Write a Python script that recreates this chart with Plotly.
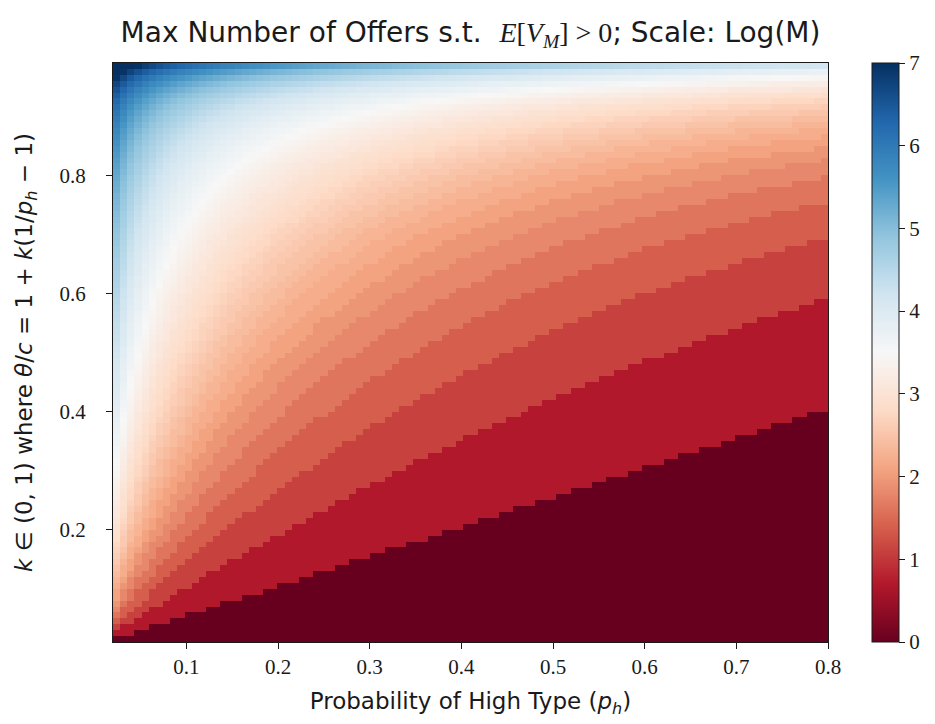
import numpy as np
import plotly.graph_objects as go

# ---- data (grid: p_h spans 0.02..0.8, k spans 0.01..0.99) ----
P_H_EDGES = np.linspace(0.02, 0.80, 101)      # column edges (100 columns)
K_EDGES = np.linspace(0.01, 0.99, 99)         # row edges (98 rows)
P_H = 0.5 * (P_H_EDGES[:-1] + P_H_EDGES[1:])  # p_h value in each column
K = np.arange(1, 99) / 100.0                  # k = 0.01 ... 0.98 in each row
M_CANDIDATES = np.arange(1, 1098)             # offers searched (log cap = 7)
X_TICKS = [0.1, 0.2, 0.3, 0.4, 0.5, 0.6, 0.7, 0.8]
Y_TICKS = [0.2, 0.4, 0.6, 0.8]
CBAR_TICKS = [0, 1, 2, 3, 4, 5, 6, 7]

# theta/c = 1 + k(1/p_h - 1); E[V_M] > 0  <=>  theta/c > mean_{m<=M} E[min(T, m)]
q = 1.0 - P_H[:, None]
m = M_CANDIDATES[None, :]
trunc_mean = (1.0 - q ** m) / P_H[:, None]            # E[min(T,m)]
threshold = np.cumsum(trunc_mean, axis=1) / m          # shape (P, M)
ratio = 1.0 + K[:, None] * (1.0 / P_H[None, :] - 1.0)  # shape (K, P)
M_MAX = (threshold[None, :, :] < ratio[:, :, None]).sum(axis=2)
M_MAX = np.maximum(M_MAX, 1)
LOG_M = np.minimum(np.log(M_MAX), 7.0)

# matplotlib RdBu
RDBU = ["#67001f", "#b2182b", "#d6604d", "#f4a582", "#fddbc7", "#f7f7f7",
        "#d1e5f0", "#92c5de", "#4393c3", "#2166ac", "#053061"]
colorscale = [[i / (len(RDBU) - 1), c] for i, c in enumerate(RDBU)]

SERIF = "Liberation Serif, DejaVu Serif, serif"
SANS = "DejaVu Sans, Liberation Sans, sans-serif"
INK = "#1a1a1a"

fig = go.Figure(go.Heatmap(
    z=LOG_M, x=P_H_EDGES, y=K_EDGES,
    colorscale=colorscale, zmin=0, zmax=7,
    colorbar=dict(
        thickness=27, len=1.0, lenmode="fraction", y=0.5, yanchor="middle",
        x=1.0615, xanchor="left", xpad=0, ypad=0,
        outlinewidth=1, outlinecolor=INK,
        tickvals=CBAR_TICKS, ticks="outside", ticklen=6, tickcolor=INK,
        tickfont=dict(family=SERIF, size=21, color=INK),
    ),
))

axis_common = dict(
    showgrid=False, zeroline=False, showline=True, linecolor=INK, linewidth=1.2,
    mirror=True, ticks="outside", ticklen=6, tickcolor=INK,
    tickfont=dict(family=SERIF, size=21, color=INK),
)

fig.update_layout(
    width=935, height=724,
    margin=dict(l=113, r=107, t=63, b=82),
    paper_bgcolor="white", plot_bgcolor="white",
    title=dict(
        text=("Max Number of Offers s.t. &nbsp;<span style=\"font-family:Liberation Serif\">"
              "<i>E</i>[<i>V<sub>M</sub></i>] &gt; 0</span>; Scale: Log(M)"),
        x=0.5, xref="paper", xanchor="center",
        y=1 - 32 / 724, yref="container", yanchor="middle",
        font=dict(family=SANS, size=28, color=INK),
    ),
    xaxis=dict(range=[0.02, 0.8], tickvals=X_TICKS, tickformat=".1f",
               title=dict(text="Probability of High Type (<i>p<sub>h</sub></i>)",
                          font=dict(family=SANS, size=23, color=INK), standoff=14),
               **axis_common),
    yaxis=dict(range=[0.01, 0.99], tickvals=Y_TICKS, tickformat=".1f",
               ticklabelstandoff=16,
               title=dict(text=("<i>k</i> \u2208 (0, 1) where <i>\u03b8</i>/<i>c</i> = 1 + "
                                "<i>k</i>(1/<i>p<sub>h</sub></i> \u2212 1)"),
                          font=dict(family=SANS, size=23, color=INK), standoff=20),
               **axis_common),
)

fig.write_html("out.html")
